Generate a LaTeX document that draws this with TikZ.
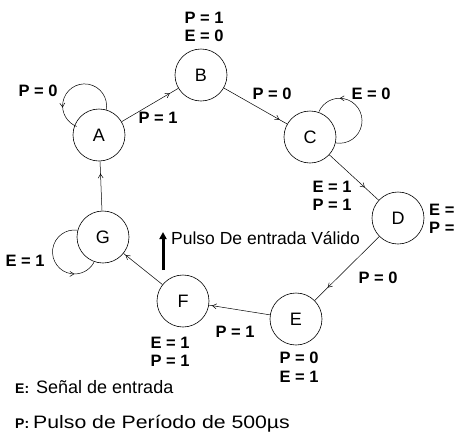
\documentclass[tikz,border=0pt]{standalone}
\usepackage{fontspec}
\setmainfont{Liberation Sans}
\usetikzlibrary{arrows.meta,decorations.markings}
\begin{document}
\begin{tikzpicture}[x=1pt,y=1pt,
 st/.style={circle,draw,line width=0.6pt,minimum size=52pt,inner sep=0pt,font=\fontsize{18}{18}\selectfont},
 lbl/.style={font=\fontsize{16.5}{18.5}\selectfont\bfseries,align=center,inner sep=0pt},
 arr/.style={line width=0.5pt,postaction=decorate,decoration={markings,mark=at position #1 with {\arrow{Straight Barb[length=4pt,width=5pt]}}}},
 legtxt/.style={anchor=base west,inner sep=0pt,font=\fontsize{18}{18}\selectfont},
 legkey/.style={anchor=base west,inner sep=0pt,font=\fontsize{14}{14}\selectfont\bfseries}
]
\useasboundingbox (0,0) rectangle (459,-437);
\node[st] (A) at (99,-135) {A};
\node[st] (B) at (201,-75) {B};
\node[st] (C) at (310,-137) {C};
\node[st] (D) at (398,-218) {D};
\node[st] (E) at (296,-319) {E};
\node[st] (F) at (183,-301) {F};
\node[st] (G) at (103,-237) {G};
% transitions
\draw[arr=0.75] (G) -- (A);
\draw[arr=0.85] (A) -- (B);
\draw[arr=0.88] (B) -- (C);
\draw[arr=0.72] (C) -- (D);
\draw[arr=0.8] (D) -- (E);
\draw[arr=0.95] (E) -- (F);
\draw[arr=0.95] (F) -- (G);
% self loops
\draw[arr=0.75] (A.74) arc[start angle=-10,end angle=249,radius=22];
\draw[arr=0.74] (C.-13) arc[start angle=-100,end angle=156,radius=22.5];
\draw[arr=0.75] (G.165) arc[start angle=82,end angle=332,radius=22];
% labels
\node[lbl] (lB) at (204,-27) {P = 1\\E = 0};
\node[lbl] (lA) at (38,-91) {P = 0};
\node[lbl] (lAB) at (158,-118) {P = 1};
\node[lbl] (lBC) at (272,-94) {P = 0};
\node[lbl] (lC) at (371,-94) {E = 0};
\node[lbl] (lCD) at (332,-196) {E = 1\\P = 1};
\node[lbl,anchor=west] (lD) at (429,-219) {E = 1\\P = 1};
\node[lbl] (lDE) at (378,-278) {P = 0};
\node[lbl] (lEF) at (235,-332) {P = 1};
\node[lbl] (lF) at (170,-352) {E = 1\\P = 1};
\node[lbl] (lE) at (299,-367) {P = 0\\E = 1};
\node[lbl] (lG) at (25,-261) {E = 1};
% valid input pulse
\coordinate (pb) at (163,-270);
\coordinate (pt) at (163,-232);
\draw[line width=3pt,-{Triangle[length=7pt,width=7pt]}] (pb) -- (pt);
\node[anchor=base west,inner sep=0pt,font=\fontsize{17.5}{17.5}\selectfont] (pulso) at (171,-244) {Pulso De entrada Válido};
% legend
\node[legkey] (k1) at (15,-393) {E:};
\node[legtxt] (t1) at (36,-393) {Señal de entrada};
\node[legkey] (k2) at (15,-428) {P:};
\node[legtxt] (t2) at (33,-428) {\scalebox{1.18}[1]{Pulso de Período de 500µs}};
\end{tikzpicture}
\end{document}
